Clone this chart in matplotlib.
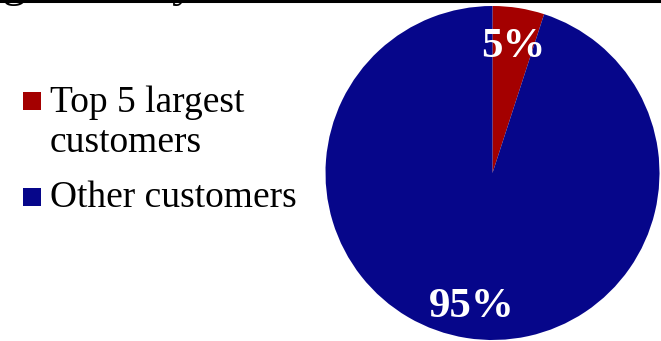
import matplotlib
matplotlib.use("Agg")
import matplotlib.pyplot as plt
from matplotlib.patches import Rectangle
from matplotlib.lines import Line2D
from matplotlib.transforms import offset_copy

# Customer share of revenue (%)
categories = ["Top 5 largest\ncustomers", "Other customers"]
shares = [5, 95]
colors = ["#A40000", "#06068A"]
title = "Revenue Mix Among Industry"

W, H = 661, 341
fig = plt.figure(figsize=(W / 100, H / 100), dpi=100)
fig.patch.set_facecolor("white")

serif = "Liberation Serif"

# Slide title, mostly above the visible area
renderer = fig.canvas.get_renderer()
probe = fig.text(0, 0, title[: title.index("g")], fontsize=34, family=serif)
prefix_w = probe.get_window_extent(renderer).width
probe.remove()
fig.text((3 - prefix_w) / W, (H + 4) / H, title, fontsize=34, family=serif,
         ha="left", va="baseline", color="black")

# Rule under the title
fig.add_artist(Line2D([0, 1], [(H - 1) / H, (H - 1) / H], color="black",
                      linewidth=2.2, transform=fig.transFigure))

# Pie
cx, cy, r = 492.5, H - 173, 167
ax = fig.add_axes([(cx - r) / W, (cy - r) / H, 2 * r / W, 2 * r / H])
wedges, _, autotexts = ax.pie(
    shares, colors=colors, startangle=90, counterclock=False,
    autopct="%.0f%%", pctdistance=0.79, radius=1,
    wedgeprops=dict(edgecolor="none"),
    textprops=dict(color="white", fontsize=31, fontweight="bold", family=serif),
)
for t in autotexts:
    t.set_transform(offset_copy(t.get_transform(), fig=fig, x=0, y=-4, units="dots"))
ax.set_xlim(-1, 1)
ax.set_ylim(-1, 1)
ax.set_aspect("equal")
ax.axis("off")

# Legend: square marker, then the label one line at a time
square_tops = [91.5, 188]
first_baselines = [111.5, 207]
line_step = 40
for top, base, label, col in zip(square_tops, first_baselines, categories, colors):
    fig.add_artist(Rectangle((23 / W, (H - top - 18) / H), 18 / W, 18 / H,
                             facecolor=col, edgecolor="none",
                             transform=fig.transFigure))
    for i, line in enumerate(label.split("\n")):
        fig.text(50 / W, (H - base - i * line_step) / H, line, fontsize=27,
                 family=serif, ha="left", va="baseline", color="black")

fig.savefig("out.png", dpi=100, facecolor="white")
